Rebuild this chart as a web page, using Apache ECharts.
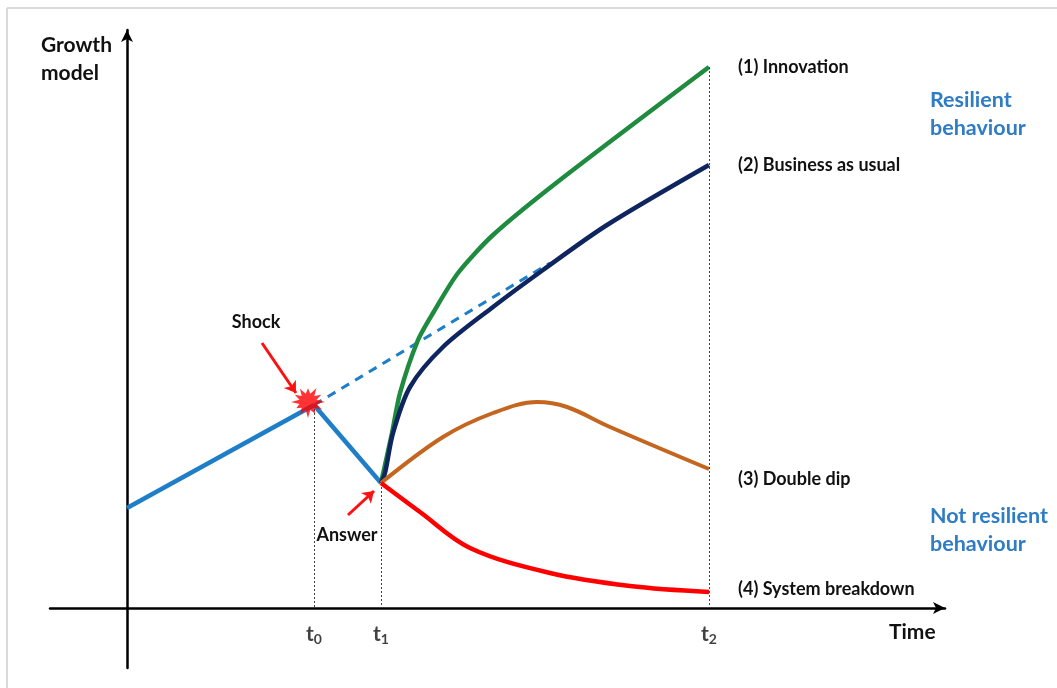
<!DOCTYPE html>
<html>
<head>
<meta charset="utf-8">
<script src="https://cdn.jsdelivr.net/npm/echarts@6/dist/echarts.min.js"></script>
<style>html,body{margin:0;padding:0;background:#fff}#c{width:1057px;height:688px}</style>
</head>
<body>
<div id="c"></div>
<script>
// Time markers (x units) and curves (x, growth) in arbitrary diagram units
const timeMarks = [187, 254, 582];
const timeLabels = ['t0', 't1', 't2'];
const preShockX = [0, 187];
const preShockY = [100, 203];
const dropX = [187, 254];
const dropY = [203, 125];
const trendX = [187, 423];
const trendY = [203, 345];
const innovationX = [254, 265, 273, 291, 306, 331, 366, 433, 582];
const innovationY = [125, 175, 215, 268, 295, 335, 373, 428, 541];
const bauX = [254, 258, 266, 283, 316, 366, 416, 480, 582];
const bauY = [125, 135, 175, 221, 261, 301, 338, 383, 443];
const doubleDipX = [254, 316, 366, 410, 440, 483, 582];
const doubleDipY = [125, 171, 195, 206, 201, 181, 139];
const breakdownX = [254, 293, 343, 423, 503, 582];
const breakdownY = [125, 96, 60, 35, 22, 16];
const seriesNames = ['(1) Innovation', '(2) Business as usual', '(3) Double dip', '(4) System breakdown'];

const zip = (xs, ys) => xs.map((x, i) => [x, ys[i]]);
const FONT = 'Lato';

// burst (explosion) symbol path
function burstPath() {
  const n = 12, pts = [];
  const rr = [1, 0.95, 0.85, 1, 0.9, 0.8, 1, 0.9, 0.95, 0.85, 1, 0.9];
  for (let i = 0; i < n * 2; i++) {
    const a = Math.PI * i / n;
    const r = i % 2 === 0 ? rr[i / 2] * 50 : 26;
    pts.push((50 + r * Math.cos(a)).toFixed(1) + ' ' + (50 + r * Math.sin(a)).toFixed(1));
  }
  return 'path://M' + pts.join(' L') + ' Z';
}

const lineBase = (name, data, color, extra) => Object.assign({
  name: name, type: 'line', data: data, symbol: 'none', silent: true,
  lineStyle: { color: color, width: 4.5 }, z: 3
}, extra || {});

const endLbl = (txt, dy) => ({
  show: true, formatter: txt, distance: 29, offset: [0, dy],
  fontFamily: FONT, fontWeight: 'bold', fontSize: 18, color: '#111'
});

const chart = echarts.init(document.getElementById('c'));
chart.setOption({
  backgroundColor: '#fff',
  animation: false,
  grid: { left: 50, right: 112, top: 30, bottom: 20, outerBoundsMode: 'none', containLabel: false },
  xAxis: {
    type: 'value', min: -77, max: 818,
    axisLine: { onZero: true, symbol: ['none', 'arrow'], symbolSize: [9, 12], lineStyle: { color: '#000', width: 2.5 } },
    axisTick: { show: false }, splitLine: { show: false }, axisLabel: { show: false }
  },
  yAxis: {
    type: 'value', min: -60, max: 578,
    axisLine: { onZero: true, symbol: ['none', 'arrow'], symbolSize: [9, 12], lineStyle: { color: '#000', width: 2.5 } },
    axisTick: { show: false }, splitLine: { show: false }, axisLabel: { show: false }
  },
  graphic: [
    { type: 'line', shape: { x1: 7, y1: 8, x2: 1057, y2: 8 }, style: { stroke: '#d9d9d9', lineWidth: 2 } },
    { type: 'line', shape: { x1: 7, y1: 8, x2: 7, y2: 688 }, style: { stroke: '#d9d9d9', lineWidth: 2 } },
    { type: 'text', right: 1057 - 112, top: 31, style: { text: 'Growth\nmodel', align: 'right', font: 'bold 21px ' + FONT, fill: '#111', lineHeight: 28 } },
    { type: 'text', left: 889, top: 622, style: { text: 'Time', font: 'bold 21px ' + FONT, fill: '#111' } },
    { type: 'text', left: 930, top: 86, style: { text: 'Resilient\nbehaviour', font: 'bold 21.5px ' + FONT, fill: '#2E7CC4', lineHeight: 28 } },
    { type: 'text', left: 930, top: 502, style: { text: 'Not resilient\nbehaviour', font: 'bold 21.5px ' + FONT, fill: '#2E7CC4', lineHeight: 28 } },
    { type: 'text', x: 256, y: 322, style: { text: 'Shock', align: 'center', verticalAlign: 'middle', font: 'bold 18px ' + FONT, fill: '#111' } },
    { type: 'text', x: 347, y: 535, style: { text: 'Answer', align: 'center', verticalAlign: 'middle', font: 'bold 18px ' + FONT, fill: '#111' } }
  ],
  series: [
    // guides: dotted verticals + red arrows
    {
      type: 'line', data: [], silent: true,
      markLine: {
        silent: true, symbol: 'none', label: { show: false },
        lineStyle: { color: '#444', type: [2, 2], width: 1 },
        data: [
          [{ coord: [timeMarks[0], preShockY[1]] }, { coord: [timeMarks[0], 0] }],
          [{ coord: [timeMarks[1], dropY[1]] }, { coord: [timeMarks[1], 0] }],
          [{ coord: [timeMarks[2], innovationY[innovationY.length - 1]] }, { coord: [timeMarks[2], 0] }]
        ]
      }
    },
    {
      type: 'line', data: [], silent: true,
      markLine: {
        silent: true, symbol: ['none', 'arrow'], symbolSize: 11, label: { show: false },
        lineStyle: { color: '#ff1010', type: 'solid', width: 3 },
        data: [
          [{ coord: [135, 265] }, { coord: [169, 215] }],
          [{ coord: [221, 93] }, { coord: [247, 117] }]
        ]
      }
    },
    lineBase('pre', zip(preShockX, preShockY), '#1F7EC8'),
    lineBase('drop', zip(dropX, dropY), '#1F7EC8'),
    lineBase('trend', zip(trendX, trendY), '#1F7EC8', { lineStyle: { color: '#1F7EC8', width: 3, type: [9, 7] }, z: 2 }),
    lineBase(seriesNames[0], zip(innovationX, innovationY), '#1E8B3F', {
      smooth: 0.25, endLabel: endLbl(seriesNames[0], 0)
    }),
    lineBase(seriesNames[1], zip(bauX, bauY), '#0F2560', {
      smooth: 0.3, endLabel: endLbl(seriesNames[1], 0)
    }),
    lineBase(seriesNames[2], zip(doubleDipX, doubleDipY), '#C4661F', {
      smooth: 0.35, lineStyle: { color: '#C4661F', width: 4 }, endLabel: endLbl(seriesNames[2], 10)
    }),
    lineBase(seriesNames[3], zip(breakdownX, breakdownY), '#FF0000', {
      smooth: 0.35, endLabel: endLbl(seriesNames[3], -3)
    }),
    {
      type: 'scatter', silent: true, z: 5,
      data: [[preShockX[1] - 6, preShockY[1] + 2]],
      symbol: burstPath(), symbolSize: [34, 30],
      itemStyle: { color: '#FF0000' }
    },
    {
      // time tick labels t0, t1, t2 placed under the time axis
      type: 'scatter', silent: true, z: 5, symbolSize: 1,
      itemStyle: { color: 'rgba(0,0,0,0)' },
      data: timeMarks.map((t, i) => ({ value: [t, -14], name: timeLabels[i] })),
      label: {
        show: true, position: 'bottom', distance: 0, color: '#111', textBorderWidth: 0,
        formatter: p => '{t|t}{s|' + p.name.slice(1) + '}',
        rich: {
          t: { fontFamily: FONT, fontWeight: 'bold', fontSize: 21, color: '#111' },
          s: { fontFamily: FONT, fontWeight: 'bold', fontSize: 14, color: '#111', verticalAlign: 'bottom', padding: [10, 0, 0, 0] }
        }
      }
    }
  ]
});
</script>
</body>
</html>
